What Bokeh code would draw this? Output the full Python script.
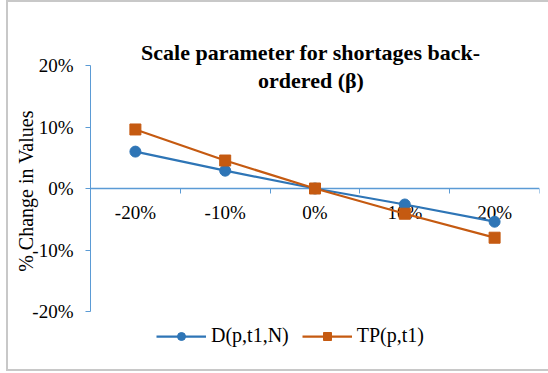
from bokeh.plotting import figure
from bokeh.models import (Range1d, FixedTicker, NumeralTickFormatter, Legend, LegendItem,
                          Label, ColumnDataSource)
from bokeh.core.properties import value
from bokeh.embed import file_html
from bokeh.resources import INLINE

# ---- data ----
categories = ["-20%", "-10%", "0%", "10%", "20%"]
d_values = [0.060, 0.029, 0.0, -0.026, -0.054]      # D(p,t1,N)
tp_values = [0.096, 0.0455, 0.0, -0.041, -0.080]    # TP(p,t1)
y_ticks = [-0.2, -0.1, 0.0, 0.1, 0.2]
series_names = ["D(p,t1,N)", "TP(p,t1)"]
title_lines = ["Scale parameter for shortages back-", "ordered (\u03b2)"]

FONT = "Liberation Serif"
AXIS_COLOR = "#5B9BD5"
BLUE = "#2E75B6"
ORANGE = "#C55A11"

xs = [i + 0.5 for i in range(len(categories))]
src = ColumnDataSource(dict(x=xs, cat=categories, d=d_values, tp=tp_values, zero=[0.0] * len(xs)))

p = figure(width=540, height=367, output_backend="svg", toolbar_location=None,
           x_range=Range1d(0, len(categories)), y_range=Range1d(-0.2813, 0.2732),
           min_border_left=82, min_border_right=9, min_border_top=18, min_border_bottom=8,
           margin=(2, 0, 0, 8),
           styles={"outline": "2px solid #C8C8C8"})
p.outline_line_color = None
p.grid.visible = False
p.background_fill_color = "white"
p.border_fill_color = "white"

# y axis
ya = p.yaxis[0]
ya.ticker = FixedTicker(ticks=y_ticks)
ya.formatter = NumeralTickFormatter(format="0%")
ya.bounds = (-0.2, 0.2)
ya.axis_line_color = AXIS_COLOR
ya.major_tick_line_color = AXIS_COLOR
ya.major_tick_out = 5
ya.major_tick_in = 0
ya.minor_tick_line_color = None
ya.major_label_text_font = FONT
ya.major_label_text_font_size = "19px"
ya.major_label_text_color = "black"
ya.major_label_standoff = 12
ya.axis_label = "% Change in Values"
ya.axis_label_text_font = FONT
ya.axis_label_text_font_size = "20px"
ya.axis_label_text_font_style = "normal"
ya.axis_label_text_color = "black"
ya.axis_label_standoff = -8

# x axis crossing at 0, ticks between categories
xa = p.xaxis[0]
xa.fixed_location = 0
xa.ticker = FixedTicker(ticks=list(range(len(categories) + 1)))
xa.major_label_overrides = {i: "" for i in range(len(categories) + 1)}
xa.major_label_standoff = 0
xa.axis_line_color = AXIS_COLOR
xa.axis_line_width = 1.5
xa.major_tick_line_color = AXIS_COLOR
xa.major_tick_out = 5
xa.major_tick_in = 0
xa.minor_tick_line_color = None
xa.level = "underlay"

# category labels near the zero line
p.text(x="x", y="zero", text="cat", source=src, text_font=value(FONT),
       text_font_size="19px", text_align="center", text_baseline="middle",
       y_offset=24, text_color="black")

# series
l1 = p.line("x", "d", source=src, line_color=BLUE, line_width=2.25)
m1 = p.scatter("x", "d", source=src, marker="circle", size=11, fill_color=BLUE, line_color=BLUE)
l2 = p.line("x", "tp", source=src, line_color=ORANGE, line_width=2.25)
m2 = p.scatter("x", "tp", source=src, marker="square", size=11, fill_color=ORANGE, line_color=ORANGE)

legend = Legend(items=[LegendItem(label=series_names[0], renderers=[l1, m1]),
                       LegendItem(label=series_names[1], renderers=[l2, m2])],
                orientation="horizontal", location=(66, 14),
                label_text_font=FONT, label_text_font_size="20px", label_text_color="black",
                glyph_width=50, glyph_height=20, label_standoff=5, spacing=13,
                padding=0, margin=0, border_line_color=None, background_fill_alpha=0)
p.add_layout(legend, "center")

# title
for txt, yy in zip(title_lines, [0.221, 0.176]):
    p.add_layout(Label(x=2.455, y=yy, text=txt, text_font=FONT,
                       text_font_size="22px", text_font_style="bold", text_align="center",
                       text_baseline="middle", text_color="black"))

open("out.html", "w").write(file_html(p, INLINE))
